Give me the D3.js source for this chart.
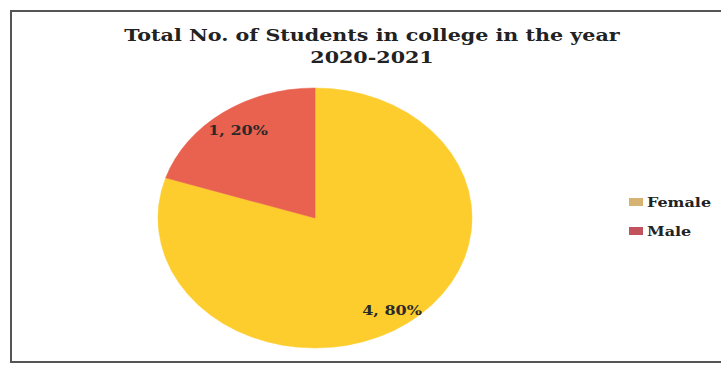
<!DOCTYPE html>
<html><head><meta charset="utf-8">
<script src="https://cdn.jsdelivr.net/npm/d3@7"></script>
<style>html,body{margin:0;padding:0;background:#fff;}svg{display:block;}</style>
</head><body>
<svg id="chart" width="721" height="365"></svg>
<script>
const categories = ["Female", "Male"];
const values = [4, 1];
const labels = ["4, 80%", "1, 20%"];
const titleLines = ["Total No. of Students in college in the year", "2020-2021"];
const sliceColors = ["#FDCD2E", "#E9614F"];
const legendColors = ["#D6B273", "#C1535F"];

const sx = 1.2; // horizontal stretch of the original picture
const svg = d3.select("#chart");
svg.append("rect").attr("x", 11).attr("y", 11).attr("width", 720).attr("height", 351)
  .attr("fill", "#fff").attr("stroke", "#555").attr("stroke-width", 2);

const font = "'DejaVu Serif', serif";
svg.selectAll("text.title").data(titleLines).join("text").attr("class", "title")
  .attr("transform", (d, i) => `translate(372,${i === 0 ? 41 : 63}) scale(${sx},1)`)
  .attr("text-anchor", "middle").attr("font-family", font).attr("font-weight", "bold")
  .attr("font-size", 17.2).attr("fill", "#222").text(d => d);

const cx = 315, cy = 218, rx = 157, ry = 130;
const pie = d3.pie().sort(null).value(d => d.v).startAngle(0).endAngle(2 * Math.PI);
const data = categories.map((c, i) => ({c, v: values[i], col: sliceColors[i], lab: labels[i]}));
const arcs = pie(data);
const arc = d3.arc().innerRadius(0).outerRadius(ry);
const g = svg.append("g").attr("transform", `translate(${cx},${cy}) scale(${rx / ry},1)`);
g.selectAll("path").data(arcs).join("path").attr("d", arc).attr("fill", d => d.data.col)
  .attr("stroke", d => d.data.col).attr("stroke-width", 0.5);

const labelPos = [[392, 315], [238, 135]];
svg.selectAll("text.lab").data(arcs).join("text").attr("class", "lab")
  .attr("transform", (d, i) => `translate(${labelPos[i][0]},${labelPos[i][1]}) scale(${sx},1)`)
  .attr("text-anchor", "middle").attr("font-family", font)
  .attr("font-weight", "bold").attr("font-size", 13.3).attr("fill", "#2a2a2a")
  .text(d => d.data.lab);

const lg = svg.append("g").attr("transform", "translate(629,195)");
const items = lg.selectAll("g").data(categories).join("g").attr("transform", (d, i) => `translate(0,${i * 29})`);
items.append("rect").attr("width", 14).attr("height", 8).attr("y", 3).attr("fill", (d, i) => legendColors[i]);
items.append("text").attr("transform", "translate(18,12) scale(" + sx + ",1)").attr("font-family", font)
  .attr("font-weight", "bold").attr("font-size", 13.3).attr("fill", "#222").text(d => d);
</script>
</body></html>
